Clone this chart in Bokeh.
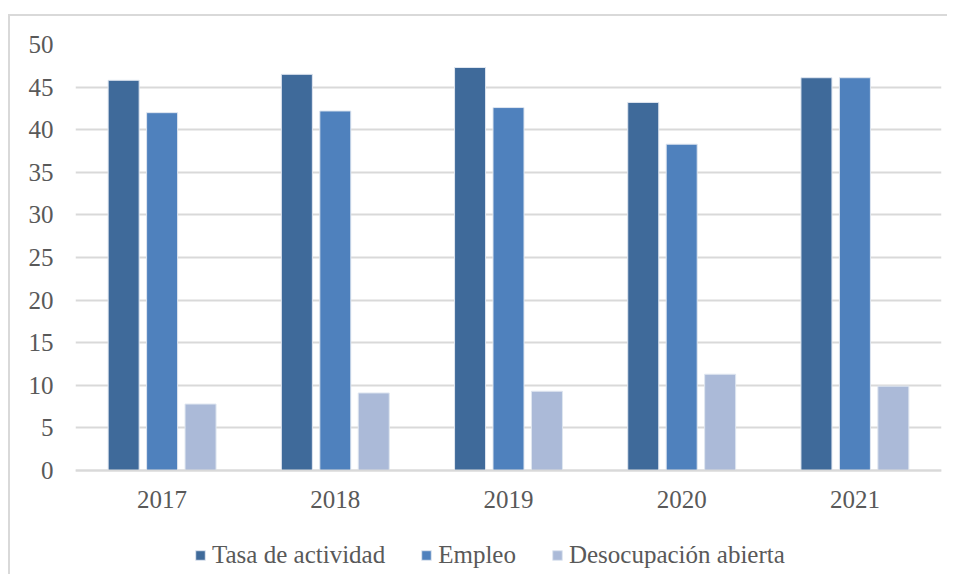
from bokeh.plotting import figure
from bokeh.models import ColumnDataSource, FactorRange, Legend, LegendItem, FixedTicker, Range1d
from bokeh.transform import dodge
from bokeh.embed import file_html
from bokeh.resources import INLINE

years = ["2017", "2018", "2019", "2020", "2021"]
tasa_actividad = [45.8, 46.5, 47.3, 43.2, 46.1]
empleo = [42.0, 42.2, 42.6, 38.3, 46.1]
desocupacion = [7.8, 9.1, 9.3, 11.3, 9.9]
series_names = ["Tasa de actividad", "Empleo", "Desocupación abierta"]
y_ticks = [0, 5, 10, 15, 20, 25, 30, 35, 40, 45, 50]
colors = ["#3f6a9a", "#4f81bd", "#abbad8"]

src = ColumnDataSource(dict(years=years, tasa=tasa_actividad, empleo=empleo, desoc=desocupacion))

FONT = "Liberation Serif"
TXT = "#595959"
GRID = "#d9d9d9"

# frame extends below 0 so the legend sits inside it; 426 px for 0..50
px_per_unit = 426 / 50
legend_room = 104 / px_per_unit

p = figure(x_range=FactorRange(*years), y_range=Range1d(-legend_room, 50), width=939, height=560,
           output_backend="svg", toolbar_location=None,
           min_border_left=65, min_border_right=8, min_border_top=28, min_border_bottom=2)
p.outline_line_color = None
p.background_fill_color = "white"
p.border_fill_color = "white"
p.styles = {"border-left": f"2px solid {GRID}", "border-top": f"2px solid {GRID}",
            "margin-top": "14px", "margin-left": "8px"}

off = 0.222
w = 0.179
renderers = []
for col, dx, c in zip(["tasa", "empleo", "desoc"], [-off, 0, off], colors):
    r = p.vbar(x=dodge("years", dx, range=p.x_range), top=col, bottom=0, width=w, source=src,
               fill_color=c, line_color="#dfe6f0", line_width=1)
    renderers.append(r)

p.xgrid.grid_line_color = None
p.ygrid.grid_line_color = GRID
p.ygrid.grid_line_width = 2
p.yaxis.ticker = FixedTicker(ticks=y_ticks)
p.yaxis.axis_line_color = None
p.yaxis.major_label_standoff = 22
p.xaxis.fixed_location = 0
p.xaxis.axis_line_color = GRID
p.xaxis.axis_line_width = 2
p.xaxis.major_label_standoff = 20
for ax in (p.xaxis, p.yaxis):
    ax.major_tick_line_color = None
    ax.minor_tick_line_color = None
    ax.major_tick_out = 0
    ax.major_tick_in = 0
    ax.minor_tick_out = 0
    ax.major_label_text_font = FONT
    ax.major_label_text_font_size = "25px"
    ax.major_label_text_color = TXT

legend = Legend(items=[LegendItem(label=n, renderers=[r]) for n, r in zip(series_names, renderers)],
                orientation="horizontal", location=(119, 5))
legend.label_text_font = FONT
legend.label_text_font_size = "25px"
legend.label_text_color = TXT
legend.glyph_width = 12
legend.glyph_height = 12
legend.label_standoff = 6
legend.spacing = 35
legend.padding = 0
legend.margin = 0
legend.border_line_color = None
legend.background_fill_alpha = 0
p.add_layout(legend, "center")

open("out.html", "w").write(file_html(p, INLINE))
